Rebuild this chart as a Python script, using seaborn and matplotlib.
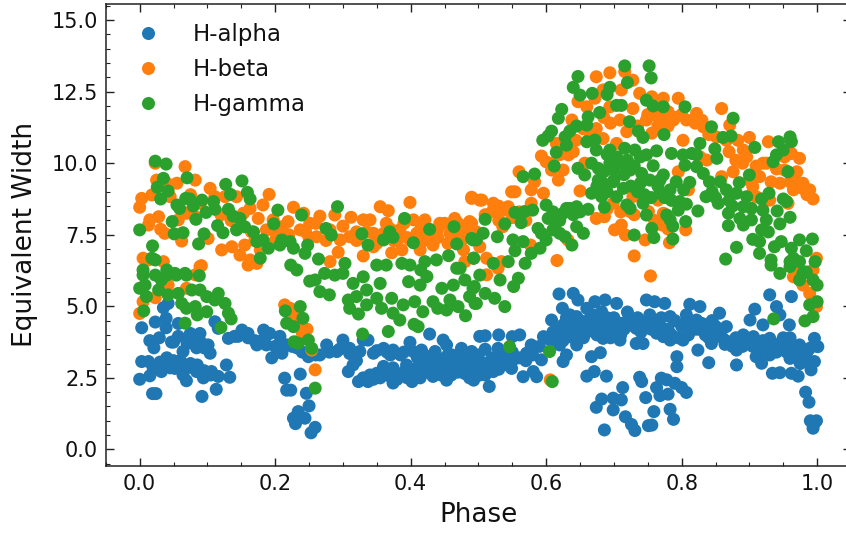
import pandas as pd
import matplotlib
matplotlib.use("Agg")
import matplotlib.pyplot as plt
import seaborn as sns
from matplotlib.ticker import MultipleLocator

# (phase, equivalent width)
h_alpha = [
    (.000,2.45),(.015,2.57),(.003,3.07),(.013,3.07),(.020,2.83),(.032,2.72),(.042,3.00),(.052,2.83),(.064,2.60),(.069,2.40),
    (.084,2.72),(.094,2.50),(.106,2.72),(.116,2.55),(.133,2.52),(.128,2.95),(.113,2.10),(.092,1.85),(.019,1.95),(.024,1.95),
    (.003,4.25),(.023,4.45),(.039,4.58),(.039,4.25),(.057,4.40),(.035,4.95),(.042,5.10),(.015,3.80),(.029,3.90),(.021,3.55),
    (.047,3.75),(.057,3.95),(.074,4.00),(.089,4.05),(.101,3.65),(.084,3.55),(.104,3.36),(.064,3.42),(.111,4.46),(.116,4.23),
    (.131,3.88),(.151,4.17),(.160,4.05),(.173,3.65),(.183,4.17),(.192,4.05),(.187,3.65),(.195,3.20),(.210,3.36),(.207,3.95),
    (.217,3.65),(.232,3.55),(.237,2.63),(.214,2.49),(.217,2.07),(.223,2.07),(.246,1.96),(.250,1.52),(.227,1.09),(.234,1.32),
    (.244,1.09),(.230,0.90),(.259,0.77),(.253,0.58),(.249,3.24),(.266,3.30),(.276,3.65),(.291,3.42),(.300,3.82),(.310,3.53),
    (.325,3.42),(.315,2.95),(.308,2.72),(.323,2.37),(.337,2.37),(.330,3.82),(.337,3.82),(.345,3.36),(.360,3.53),(.374,3.47),
    (.360,2.90),(.374,2.32),(.402,2.37),(.399,3.74),(.416,3.47),(.428,4.03),(.448,3.82),(.453,3.65),(.436,3.42),(.461,3.30),
    (.475,3.53),(.490,3.42),(.453,2.42),(.414,2.50),(.433,2.55),(.493,2.42),(.483,3.00),(.433,3.00),(.414,3.07),(.394,2.95),
    (.374,2.85),(.350,2.66),(.463,2.83),(.502,3.95),(.497,3.05),(.040,3.20),(.050,3.10),(.075,3.00),(.085,2.95),(.030,3.05),
    (.340,2.60),(.355,2.50),(.385,2.60),(.395,2.50),(.405,2.80),(.425,2.70),(.445,2.60),(.455,2.95),(.470,2.70),(.490,2.80),
    (.365,3.40),(.385,3.30),(.405,3.40),(.425,3.25),(.440,3.20),(.455,3.30),(.470,3.10),(.510,2.60),(.160,3.90),(.140,3.95),
    (.487,3.30),(.497,2.95),(.512,2.83),(.516,2.20),(.487,2.50),(.502,2.60),(.522,2.72),(.537,2.95),(.549,2.83),(.510,3.97),
    (.530,4.00),(.510,3.50),(.529,3.53),(.550,3.94),(.561,4.00),(.566,2.54),(.586,2.54),(.581,2.72),(.578,3.65),(.571,3.36),
    (.596,3.94),(.606,3.82),(.593,3.13),(.619,5.43),(.640,5.45),(.647,5.22),(.624,4.93),(.608,4.52),(.625,4.35),(.645,4.64),
    (.660,4.93),(.672,5.16),(.687,5.22),(.704,5.10),(.682,4.81),(.667,4.52),(.635,4.12),(.620,3.65),(.625,3.07),(.630,3.30),
    (.645,3.65),(.667,3.24),(.680,3.38),(.660,2.56),(.671,2.72),(.689,2.56),(.713,2.16),(.682,1.76),(.674,1.47),(.699,1.38),
    (.711,1.73),(.699,1.79),(.717,1.14),(.726,0.87),(.686,0.68),(.731,0.66),(.751,0.83),(.756,0.85),(.759,1.32),(.747,1.81),
    (.741,2.37),(.738,2.52),(.763,2.16),(.768,1.88),(.780,1.93),(.770,2.49),(.778,2.43),(.790,2.31),(.800,2.16),(.807,1.99),
    (.783,1.40),(.788,1.05),(.840,3.03),(.881,2.95),(.793,2.89),(.793,3.24),(.733,3.70),(.743,3.70),(.709,3.82),(.684,3.88),
    (.657,4.12),(.748,5.22),(.760,5.16),(.775,5.10),(.812,5.07),(.827,4.99),(.856,4.76),(.901,4.52),(.908,4.90),(.930,5.40),
    (.962,5.34),(.940,4.99),(.945,4.70),(.920,4.35),(.959,4.35),(.996,3.88),(1.001,3.59),(.989,3.53),(.996,3.07),(.991,2.78),
    (.972,2.56),(.962,2.66),(.945,2.68),(.934,2.66),(.918,3.01),(.910,3.24),(.881,3.47),(.864,3.67),(.844,3.70),(.824,3.47),
    (.802,3.82),(.783,3.82),(.773,3.94),(.763,4.06),(.733,4.23),(.719,4.47),(.694,4.52),(.704,4.23),(.753,4.70),(.783,4.64),
    (.807,4.70),(.822,4.52),(.842,4.12),(.866,4.29),(.891,4.00),(.906,3.94),(.930,3.88),(.952,3.59),(.974,3.65),(.960,3.18),
    (.984,3.09),(.983,2.00),(.988,1.65),(.990,1.00),(.999,1.00),(.994,0.74),(.996,0.92),(.610,4.10),(.630,4.60),(.640,4.30),
    (.650,4.00),(.660,4.40),(.670,4.70),(.690,4.20),(.700,4.60),(.710,4.00),(.720,4.80),(.730,4.30),(.740,4.10),(.750,4.50),
    (.760,4.30),(.770,4.60),(.780,4.20),(.790,4.50),(.800,4.30),(.810,4.00),(.820,4.20),(.830,4.40),(.840,3.90),(.850,4.30),
    (.860,3.90),(.870,3.70),(.880,3.90),(.890,3.60),(.900,3.70),(.910,3.60),(.920,3.80),(.930,3.30),(.940,3.40),(.950,3.90),
    (.960,3.90),(.970,3.30),(.980,3.30),(.600,3.90),(.590,3.60),(.580,3.30),(.570,3.10),(.560,3.20),(.550,3.40),(.540,3.30),
    (.530,3.10),(.520,3.20),(.510,3.00),(.500,3.10),(.045,2.85),(.055,2.95),(.070,2.85),(.080,2.85),(.095,2.75),(.105,2.60),
    (.060,3.10),(.030,2.90),(.050,3.75),(.070,3.70),(.080,3.80),(.090,3.75),(.095,3.55),(.075,4.05),(.145,3.95),(.155,4.05),
    (.170,3.80),(.180,3.80),(.200,3.60),(.210,3.70),(.225,3.60),(.240,3.40),(.260,3.30),(.280,3.40),(.295,3.50),(.310,3.35),
    (.320,3.10),(.330,2.50),(.345,2.45),(.360,2.60),(.370,2.55),(.380,2.45),(.390,2.70),(.400,2.55),(.410,2.65),(.420,2.90),
    (.430,2.80),(.440,2.75),(.450,2.75),(.460,2.60),(.470,2.85),(.480,2.65),(.490,2.60),(.500,2.75),(.510,2.75),(.520,2.90),
    (.530,2.80),(.540,3.00),(.550,3.10),(.350,3.45),(.370,3.30),(.390,3.40),(.410,3.20),(.430,3.10),(.450,3.10),(.465,3.00),
    (.480,3.25),(.500,3.30),(.615,3.90),(.620,4.20),(.625,3.80),(.630,4.00),(.630,4.40),(.635,4.70),(.640,3.90),(.640,4.60),
    (.645,4.20),(.650,4.50),(.655,4.20),(.655,3.90),(.660,4.10),(.665,4.60),(.670,4.20),(.675,4.00),(.680,4.40),(.685,4.10),
    (.690,4.60),(.695,3.90),(.700,4.30),(.710,4.40),(.715,4.20),(.725,4.50),(.735,4.60),(.745,4.40),(.755,4.20),(.765,4.50),
    (.775,4.20),(.785,4.00),(.795,3.90),(.805,4.40),(.815,4.40),(.825,4.20),(.835,4.00),(.845,4.50),(.855,4.00),(.865,3.80),
    (.875,3.60),(.885,3.75),(.895,3.80),(.905,3.60),(.915,3.40),(.925,3.50),(.935,3.70),(.945,3.60),(.955,3.40),(.965,3.50),
    (.975,3.00),(.985,3.40),
]

h_beta = [
    (.000,8.46),(.003,8.77),(.018,8.89),(.025,9.41),(.040,9.30),(.055,9.30),(.067,9.88),(.082,9.41),(.023,10.00),(.045,8.83),
    (.069,8.25),(.082,8.13),(.104,9.12),(.111,8.83),(.126,8.83),(.143,8.83),(.191,8.91),(.182,8.54),(.163,8.42),(.153,8.25),
    (.175,8.07),(.015,8.02),(.028,8.13),(.013,7.84),(.031,7.69),(.037,7.55),(.057,8.02),(.062,7.28),(.101,7.37),(.121,6.97),
    (.136,7.08),(.148,6.79),(.155,7.14),(.163,6.62),(.178,6.97),(.187,7.67),(.197,8.02),(.210,7.78),(.219,7.96),(.227,8.46),
    (.242,8.25),(.237,7.67),(.251,7.90),(.266,8.15),(.288,8.19),(.261,7.43),(.281,7.67),(.312,8.11),(.330,8.02),(.340,8.02),
    (.355,8.48),(.367,8.34),(.399,8.63),(.364,7.90),(.404,8.02),(.421,8.02),(.465,8.07),(.443,7.90),(.490,8.81),(.502,8.71),
    (.487,7.96),(.497,7.55),(.296,7.32),(.310,7.43),(.345,7.55),(.330,6.76),(.293,6.89),(.281,6.56),(.372,6.87),(.387,6.97),
    (.414,6.97),(.433,7.14),(.478,6.97),(.480,6.56),(.005,6.68),(.013,6.62),(.035,6.56),(.091,6.42),(.173,6.50),(.345,7.08),
    (.384,7.67),(.409,7.55),(.458,7.55),(.433,7.55),(.360,7.55),(.000,4.75),(.005,5.16),(.023,5.30),(.042,5.74),(.069,5.63),
    (.089,6.39),(.082,6.10),(.214,5.05),(.222,4.93),(.229,4.64),(.237,4.40),(.247,4.20),(.240,4.06),(.254,3.47),(.259,2.78),
    (.160,6.44),(.674,13.02),(.694,13.16),(.716,13.20),(.728,12.90),(.711,12.56),(.684,12.56),(.672,12.27),(.647,12.15),(.660,11.97),
    (.694,11.97),(.738,12.44),(.756,12.32),(.773,12.27),(.795,12.27),(.728,11.91),(.748,11.51),(.773,11.62),(.788,11.51),(.807,11.51),
    (.822,11.74),(.859,11.91),(.871,11.33),(.709,11.51),(.638,11.51),(.674,11.21),(.719,11.10),(.756,11.05),(.802,10.80),(.832,11.27),
    (.851,10.92),(.900,10.90),(.928,10.75),(.883,10.80),(.896,10.22),(.684,10.86),(.704,10.69),(.644,10.80),(.615,10.69),(.593,10.25),
    (.633,10.29),(.608,9.76),(.625,9.76),(.600,10.05),(.560,9.70),(.583,9.35),(.618,9.41),(.549,9.00),(.554,9.00),(.578,9.07),
    (.596,8.95),(.578,8.60),(.650,9.03),(.657,10.00),(.490,8.77),(.505,8.71),(.522,8.60),(.537,8.36),(.544,8.48),(.490,7.90),
    (.497,7.60),(.502,7.08),(.536,7.78),(.577,7.14),(.512,6.68),(.534,6.56),(.616,6.60),(.632,7.32),(.674,8.07),(.686,8.13),
    (.701,7.67),(.711,7.84),(.717,7.49),(.746,7.32),(.782,7.22),(.806,7.67),(.771,7.84),(.773,8.25),(.751,8.31),(.724,8.31),
    (.699,8.60),(.743,8.83),(.728,8.83),(.765,8.71),(.810,9.07),(.795,9.70),(.859,9.53),(.876,9.70),(.905,9.18),(.915,9.53),
    (.920,10.00),(.932,9.35),(.952,9.76),(.962,10.34),(.974,10.17),(.952,10.22),(.960,9.35),(.967,9.41),(.979,9.30),(.965,9.07),
    (.989,9.07),(.994,8.75),(.957,8.60),(.930,8.71),(.925,10.00),(.837,10.11),(.730,6.76),(.999,6.68),(.965,6.39),(.965,6.03),
    (.979,5.74),(.989,5.45),(.999,4.99),(.972,6.33),(.994,6.27),(.754,6.06),(.606,2.43),(.529,6.33),(.512,6.10),(.866,10.80),
    (.891,10.46),(.827,10.22),(.910,8.83),(.075,8.90),(.090,8.60),(.120,8.20),(.135,8.00),(.165,7.60),(.200,7.30),(.250,7.40),
    (.300,7.80),(.320,7.60),(.350,7.20),(.375,7.30),(.395,7.40),(.420,7.30),(.440,7.40),(.470,7.60),(.510,8.20),(.530,8.00),
    (.760,11.70),(.780,11.80),(.790,11.60),(.800,11.70),(.815,11.50),(.820,11.40),(.830,11.50),(.840,11.00),(.750,11.70),(.735,11.30),
    (.765,11.30),(.780,11.30),(.695,11.40),(.685,11.60),(.655,11.20),(.665,10.90),(.640,10.40),(.620,10.30),(.610,10.00),(.870,10.40),
    (.880,10.10),(.890,10.00),(.900,9.40),(.910,9.90),(.940,9.80),(.945,9.30),(.970,9.70),(.980,9.10),(.985,8.90),(.730,8.20),
    (.710,8.30),(.690,8.40),(.760,8.00),(.780,7.70),(.520,8.30),(.530,8.50),(.550,8.10),(.560,8.30),(.570,8.00),(.320,7.30),
    (.335,7.60),(.355,7.40),(.370,7.70),(.380,7.30),(.390,7.90),(.400,7.30),(.415,7.70),(.425,7.40),(.440,7.70),(.450,7.90),
    (.455,7.20),(.470,7.90),(.480,7.70),(.475,7.30),(.275,7.30),(.260,7.90),(.245,7.60),(.220,7.50),(.200,7.60),(.170,7.30),
]

h_gamma = [
    (.023,10.07),(.039,9.97),(.070,9.49),(.035,9.47),(.026,9.16),(.042,9.03),(.031,8.75),(.127,9.26),(.151,9.38),(.134,8.91),
    (.159,8.98),(.163,8.75),(.068,8.77),(.074,8.75),(.055,8.54),(.059,8.42),(.079,8.50),(.092,8.71),(.109,8.66),(.111,8.39),
    (.098,8.28),(.131,8.39),(.138,8.15),(.148,8.07),(.083,8.04),(.048,7.96),(.000,7.67),(.051,7.53),(.064,7.57),(.095,7.53),
    (.115,7.82),(.123,7.57),(.087,7.18),(.019,7.11),(.143,7.67),(.155,7.78),(.168,7.60),(.204,8.36),(.198,7.88),(.239,8.19),
    (.292,8.48),(.275,7.72),(.283,7.49),(.173,7.26),(.182,7.32),(.190,7.03),(.210,7.32),(.222,7.26),(.207,7.14),(.227,7.03),
    (.244,6.85),(.248,7.14),(.178,6.68),(.264,6.65),(.223,6.44),(.232,6.27),(.303,6.50),(.328,7.53),(.337,7.14),(.369,7.60),
    (.360,7.32),(.374,7.41),(.391,8.07),(.404,7.22),(.428,7.69),(.464,7.78),(.468,7.18),(.490,7.37),(.497,7.32),(.456,6.77),
    (.493,6.68),(.421,6.56),(.438,6.62),(.468,6.33),(.387,6.50),(.364,6.44),(.350,6.44),(.399,6.44),(.018,6.68),(.023,6.62),
    (.005,6.27),(.040,6.27),(.052,6.15),(.067,6.15),(.005,6.09),(.008,5.74),(.000,5.63),(.010,5.34),(.006,4.84),(.023,6.09),
    (.032,5.92),(.040,6.09),(.054,6.09),(.069,6.09),(.088,6.07),(.028,5.57),(.042,5.40),(.057,5.45),(.077,5.57),(.089,5.57),
    (.099,5.34),(.116,5.45),(.111,5.22),(.126,5.10),(.062,5.10),(.082,4.99),(.069,4.93),(.099,4.81),(.085,4.70),(.131,4.76),
    (.135,4.56),(.067,4.41),(.120,4.26),(.237,4.99),(.215,4.84),(.241,4.58),(.217,4.41),(.227,4.29),(.228,3.76),(.234,3.71),
    (.249,3.82),(.254,3.53),(.259,2.14),(.329,4.03),(.367,4.12),(.405,4.37),(.411,4.29),(.251,5.88),(.259,5.92),(.266,5.51),
    (.280,5.40),(.273,6.15),(.288,6.09),(.300,6.15),(.315,5.80),(.330,6.03),(.355,5.80),(.335,5.57),(.308,5.22),(.320,5.34),
    (.310,4.93),(.323,4.73),(.335,5.05),(.350,5.28),(.357,4.93),(.372,5.28),(.374,4.76),(.384,4.52),(.389,5.05),(.406,5.16),
    (.418,4.81),(.433,5.16),(.458,5.22),(.470,4.99),(.481,4.67),(.446,5.63),(.463,5.74),(.397,5.86),(.414,5.74),(.424,6.04),
    (.480,5.92),(.487,5.34),(.497,5.10),(.494,5.69),(.440,4.93),(.453,4.87),(.473,6.33),(.415,6.27),(.492,5.63),(.495,5.10),
    (.510,5.45),(.502,6.09),(.532,5.92),(.539,4.99),(.524,5.28),(.552,5.69),(.559,5.98),(.546,3.59),(.605,3.42),(.609,2.37),
    (.647,13.03),(.716,13.40),(.752,13.40),(.755,12.98),(.720,12.82),(.640,12.65),(.650,12.38),(.668,12.44),(.694,12.65),(.690,12.40),
    (.704,12.02),(.711,12.02),(.748,12.20),(.758,12.00),(.773,11.97),(.805,11.97),(.623,11.88),(.618,11.57),(.679,11.77),(.662,11.62),
    (.660,11.33),(.723,11.45),(.876,11.57),(.844,11.27),(.736,11.12),(.743,10.90),(.774,11.00),(.645,11.30),(.635,11.12),(.608,11.12),
    (.603,10.95),(.595,10.80),(.628,10.92),(.630,10.63),(.660,10.75),(.672,10.81),(.674,10.46),(.615,10.38),(.612,9.90),(.827,10.69),
    (.849,10.50),(.852,10.17),(.861,10.90),(.873,10.95),(.908,10.55),(.943,10.75),(.960,10.92),(.962,10.75),(.950,10.46),(.940,10.29),
    (.935,10.05),(.957,9.70),(.900,9.59),(.885,9.32),(.583,9.62),(.566,9.53),(.694,10.46),(.694,10.00),(.704,10.22),(.716,10.52),
    (.731,10.46),(.739,10.22),(.763,10.43),(.748,10.29),(.785,10.34),(.802,10.29),(.815,10.34),(.822,10.29),(.758,9.91),(.805,9.93),
    (.822,9.88),(.667,10.00),(.647,9.82),(.657,9.59),(.677,9.82),(.699,9.76),(.724,9.76),(.741,9.64),(.773,9.59),(.832,9.64),
    (.684,9.30),(.677,9.41),(.699,9.35),(.714,9.12),(.739,9.30),(.753,9.41),(.768,9.41),(.792,9.35),(.812,9.33),(.841,9.35),
    (.857,9.35),(.866,9.07),(.667,8.95),(.682,8.83),(.704,8.83),(.768,8.95),(.783,9.07),(.803,9.07),(.836,8.83),(.854,8.60),
    (.881,8.95),(.896,8.83),(.918,8.75),(.929,8.95),(.950,8.75),(.955,8.66),(.600,8.54),(.630,8.42),(.645,8.48),(.662,8.39),
    (.686,8.46),(.719,8.54),(.724,8.42),(.743,8.60),(.748,8.19),(.797,8.66),(.807,8.57),(.795,8.36),(.778,8.19),(.783,8.02),
    (.824,8.33),(.869,8.25),(.886,8.07),(.891,8.48),(.903,8.42),(.920,8.36),(.941,8.33),(.960,8.11),(.945,7.88),(.925,8.02),
    (.903,8.02),(.891,7.84),(.869,7.82),(.918,7.67),(.928,7.60),(.905,7.34),(.915,7.26),(.881,7.06),(.865,6.65),(.915,6.85),
    (.932,6.62),(.937,7.08),(.947,7.26),(.962,7.03),(.974,7.32),(.993,7.35),(.984,6.94),(.965,6.68),(.997,6.56),(.974,6.56),
    (.960,6.56),(.554,8.28),(.563,7.92),(.568,8.31),(.580,8.36),(.539,7.88),(.510,8.04),(.528,7.43),(.507,7.55),(.492,7.32),
    (.551,7.32),(.566,7.26),(.554,6.94),(.493,6.68),(.522,6.50),(.544,6.56),(.603,8.07),(.615,7.96),(.588,7.72),(.593,7.55),
    (.610,7.67),(.625,8.25),(.635,8.42),(.645,7.78),(.655,7.55),(.628,7.43),(.638,7.14),(.600,7.32),(.591,7.03),(.578,6.85),
    (.569,6.50),(.620,7.55),(.756,7.72),(.759,7.40),(.730,7.49),(.787,7.35),(.806,7.96),(.787,7.80),(.945,6.15),(.974,5.92),
    (.984,6.20),(.994,5.92),(1.000,5.74),(.989,5.05),(1.000,5.16),(.994,4.64),(.982,4.49),(.936,4.56),(.932,6.44),(.960,6.39),
    (.979,6.15),(.700,9.90),(.710,10.00),(.690,10.30),(.685,9.70),(.720,10.10),(.730,9.90),(.700,9.40),(.715,9.60),(.725,9.20),
    (.690,9.00),(.675,9.20),(.735,9.00),(.745,8.90),(.755,8.80),(.765,9.20),(.775,8.80),(.785,8.70),(.845,9.00),(.850,8.80),
    (.870,8.70),(.875,8.50),(.610,8.30),(.620,8.00),(.640,8.20),(.650,8.30),
]

series_names = ["H-alpha", "H-beta", "H-gamma"]
series_colors = ["#1f77b4", "#ff7f0e", "#2ca02c"]

frames = []
for name, points in zip(series_names, [h_alpha, h_beta, h_gamma]):
    part = pd.DataFrame(points, columns=["Phase", "Equivalent Width"])
    part["line"] = name
    frames.append(part)
df = pd.concat(frames, ignore_index=True)

sns.set_style("white")
plt.rcParams["text.color"] = "#111111"
fig = plt.figure(figsize=(8.46, 5.34), dpi=100)
# right spine falls just outside the picture, as in the reference
ax = fig.add_axes([105.8 / 846, (534 - 466) / 534, (851 - 105.8) / 846, (466 - 3.5) / 534])

sns.scatterplot(data=df, x="Phase", y="Equivalent Width", hue="line", hue_order=series_names,
                palette=series_colors, s=88, linewidth=0, ax=ax)

ax.set_xlim(-0.05, 1.05)
ax.set_ylim(-0.58, 15.58)
ax.xaxis.set_major_locator(MultipleLocator(0.2))
ax.xaxis.set_minor_locator(MultipleLocator(0.05))
ax.yaxis.set_major_locator(MultipleLocator(2.5))
ax.yaxis.set_minor_locator(MultipleLocator(0.5))
ax.tick_params(which="major", direction="in", top=True, right=True, bottom=True, left=True,
               length=6, width=1, labelsize=15, pad=5.5, color="#222222", labelcolor="#111111")
ax.tick_params(which="minor", direction="in", top=True, right=True, bottom=True, left=True,
               length=3, width=0.8, color="#222222")
for spine in ax.spines.values():
    spine.set_color("#222222")
    spine.set_linewidth(1.1)

ax.set_xlabel("Phase", fontsize=18.8, labelpad=6, color="#111111")
ax.set_ylabel("Equivalent Width", fontsize=19, labelpad=10, color="#111111")

leg = ax.legend(loc="upper left", frameon=False, fontsize=16.5, markerscale=1.0,
                labelspacing=0.53, handletextpad=0.95, borderpad=0.4, borderaxespad=0.45)
for label in leg.get_texts():
    label.set_color("#111111")

fig.savefig("out.png", dpi=100)
